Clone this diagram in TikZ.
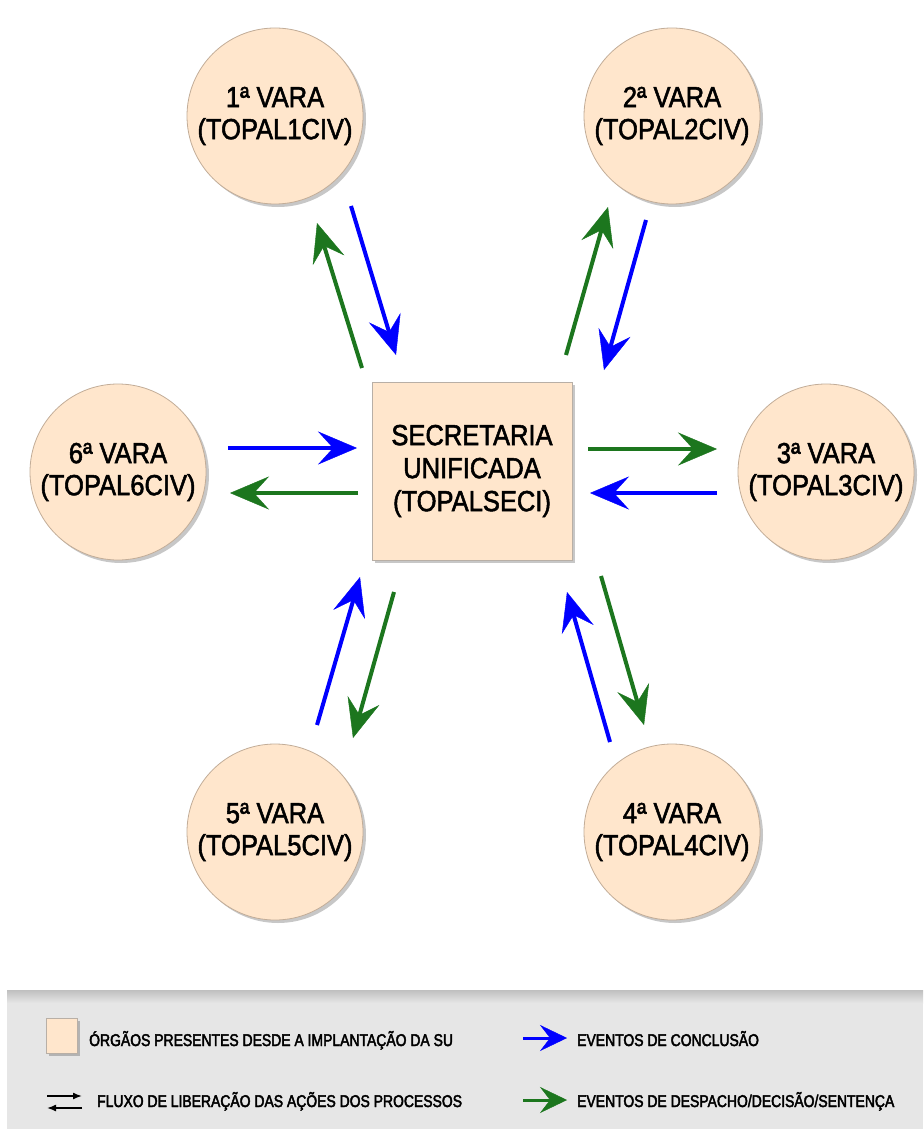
\documentclass[tikz,border=0pt]{standalone}
\usepackage{fontspec}
\setmainfont{Liberation Sans}
\newfontfamily\nodefont[FakeStretch=0.88, FakeBold=1.8]{Liberation Sans}
\newfontfamily\keyfont[FakeStretch=0.82, FakeBold=2.6]{Liberation Sans}
\usetikzlibrary{arrows.meta,shadows}

\definecolor{peach}{HTML}{FFE6CC}
\definecolor{rim}{HTML}{C2AD98}
\definecolor{boxrim}{HTML}{B8AFA6}
\definecolor{evblue}{HTML}{0000FF}
\definecolor{evgreen}{RGB}{28,118,30}
\definecolor{band}{HTML}{E6E6E6}

\tikzset{
  softshadow/.style={drop shadow={shadow xshift=3pt, shadow yshift=-3pt, fill=black, opacity=0.22}},
  vara/.style={circle, minimum size=176pt, inner sep=0pt, draw=rim, line width=0.8pt,
    fill=peach, softshadow, align=center,
    font=\nodefont\fontsize{29pt}{32pt}\selectfont},
  secbox/.style={rectangle, minimum width=200pt, minimum height=178pt, inner sep=0pt,
    draw=boxrim, line width=0.8pt, fill=peach, softshadow, align=center,
    font=\nodefont\fontsize{29pt}{33pt}\selectfont},
  flow/.style={line width=4pt, -{Stealth[length=39pt, width=33pt, inset=15pt, line width=0.4pt]}},
  conc/.style={flow, draw=evblue, color=evblue},
  desp/.style={flow, draw=evgreen, color=evgreen},
  keyarrow/.style={line width=3pt, -{Stealth[length=27pt, width=26pt, inset=10pt, line width=0.4pt]}},
  keytext/.style={anchor=base west, inner sep=0pt, font=\keyfont\fontsize{17pt}{20pt}\selectfont},
  thinarrow/.style={line width=1.5pt, -{Latex[length=9pt, width=7pt]}},
}

\begin{document}
\begin{tikzpicture}[x=1pt, y=-1pt]
  % page area
  \fill[white] (0,0) rectangle (923,1129);
  \useasboundingbox (0,0) rectangle (923,1129);

  % units and the unified office
  \node[vara] (v1) at (275,116) {1ª VARA\\(TOPAL1CIV)};
  \node[vara] (v2) at (672,116) {2ª VARA\\(TOPAL2CIV)};
  \node[vara] (v3) at (826,472) {3ª VARA\\(TOPAL3CIV)};
  \node[vara] (v4) at (672,832) {4ª VARA\\(TOPAL4CIV)};
  \node[vara] (v5) at (275,832) {5ª VARA\\(TOPAL5CIV)};
  \node[vara] (v6) at (118,472) {6ª VARA\\(TOPAL6CIV)};
  \node[secbox] (sec) at (472,471) {SECRETARIA\\UNIFICADA\\(TOPALSECI)};

  % arrow end points
  \coordinate (g1s) at (362,368); \coordinate (g1e) at (317,223);
  \coordinate (b1s) at (351,206); \coordinate (b1e) at (396,355);
  \coordinate (g2s) at (566,355); \coordinate (g2e) at (608,207);
  \coordinate (b2s) at (646,220); \coordinate (b2e) at (604,370);
  \coordinate (g3s) at (588,449); \coordinate (g3e) at (717,449);
  \coordinate (b3s) at (717,493); \coordinate (b3e) at (590,493);
  \coordinate (g4s) at (601,576); \coordinate (g4e) at (644,725);
  \coordinate (b4s) at (610,742); \coordinate (b4e) at (567,592);
  \coordinate (g5s) at (394,592); \coordinate (g5e) at (353,738);
  \coordinate (b5s) at (317,725); \coordinate (b5e) at (360,577);
  \coordinate (b6s) at (228,448); \coordinate (b6e) at (357,448);
  \coordinate (g6s) at (358,493); \coordinate (g6e) at (230,493);

  % conclusion events (blue) and dispatch/decision events (green)
  \draw[desp] (g1s) -- (g1e);
  \draw[conc] (b1s) -- (b1e);
  \draw[desp] (g2s) -- (g2e);
  \draw[conc] (b2s) -- (b2e);
  \draw[desp] (g3s) -- (g3e);
  \draw[conc] (b3s) -- (b3e);
  \draw[desp] (g4s) -- (g4e);
  \draw[conc] (b4s) -- (b4e);
  \draw[desp] (g5s) -- (g5e);
  \draw[conc] (b5s) -- (b5e);
  \draw[conc] (b6s) -- (b6e);
  \draw[desp] (g6s) -- (g6e);

  % legend band
  \fill[band] (7,990) rectangle (923,1129);
  \shade[top color=black!25, bottom color=band] (7,990) rectangle (923,1003);

  \node[rectangle, draw=boxrim, line width=0.6pt, fill=peach, softshadow,
        minimum width=31pt, minimum height=35pt, inner sep=0pt] (ksq) at (61.5,1035.5) {};
  \node[keytext] (korg) at (89,1046) {ÓRGÃOS PRESENTES DESDE A IMPLANTAÇÃO DA SU};

  \coordinate (kf1s) at (47,1096); \coordinate (kf1e) at (82,1096);
  \coordinate (kf2s) at (82,1108); \coordinate (kf2e) at (47,1108);
  \draw[thinarrow] (kf1s) -- (kf1e);
  \draw[thinarrow] (kf2s) -- (kf2e);
  \node[keytext] (kflx) at (97,1107) {FLUXO DE LIBERAÇÃO DAS AÇÕES DOS PROCESSOS};

  \coordinate (kbs) at (523,1038); \coordinate (kbe) at (567,1038);
  \draw[keyarrow, draw=evblue, color=evblue] (kbs) -- (kbe);
  \node[keytext] (kcon) at (577,1046) {EVENTOS DE CONCLUSÃO};

  \coordinate (kgs) at (523,1100); \coordinate (kge) at (567,1100);
  \draw[keyarrow, draw=evgreen, color=evgreen] (kgs) -- (kge);
  \node[keytext] (kdes) at (577,1107) {EVENTOS DE DESPACHO/DECISÃO/SENTENÇA};
\end{tikzpicture}
\end{document}
